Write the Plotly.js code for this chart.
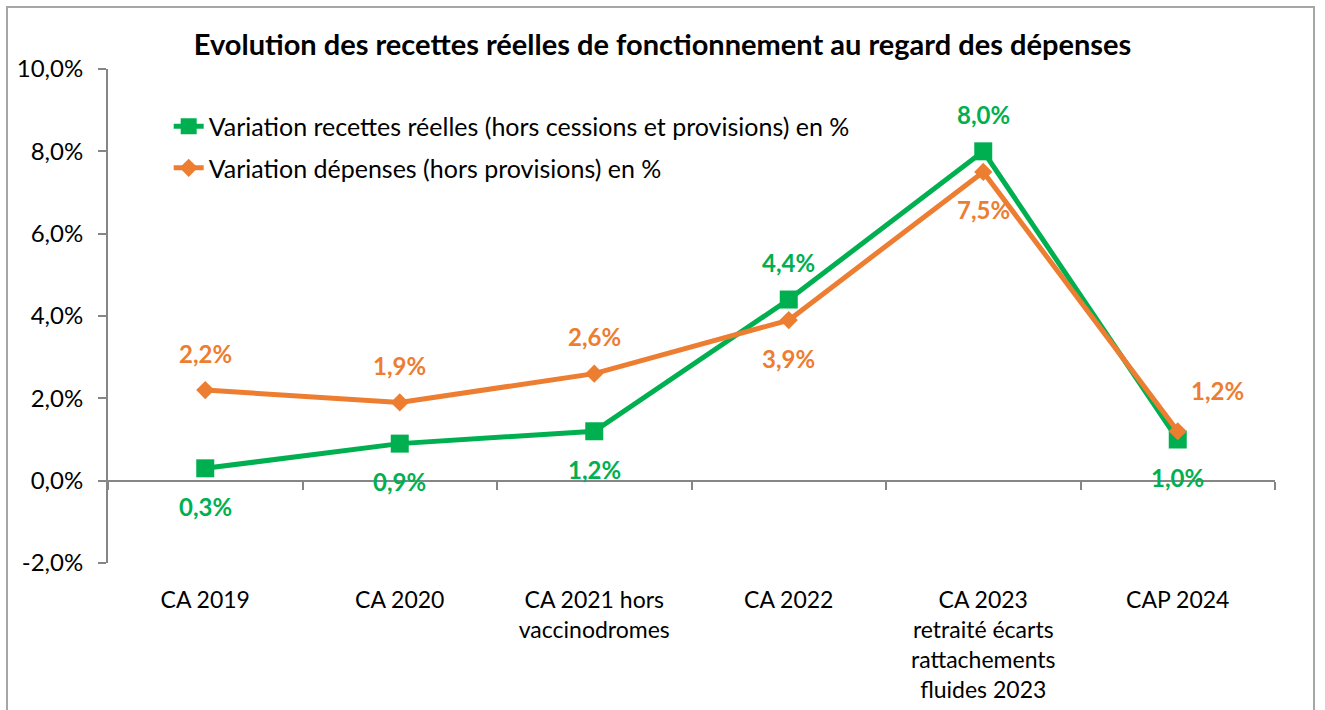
<!DOCTYPE html>
<html>
<head>
<meta charset="utf-8">
<script src="https://cdn.plot.ly/plotly-3.0.1.min.js"></script>
<style>
html,body{margin:0;padding:0;background:#fff;overflow:hidden;}
#frame{position:absolute;left:6px;top:6px;width:1309px;height:760px;border:2px solid #a6a6a6;box-sizing:border-box;}
#chart{position:absolute;left:0;top:0;width:1325px;height:710px;}
</style>
</head>
<body>
<div id="frame"></div>
<div id="chart"></div>
<script>
const categories = [
  "CA 2019",
  "CA 2020",
  "CA 2021 hors<br>vaccinodromes",
  "CA 2022",
  "CA 2023<br>retraité écarts<br>rattachements<br>fluides 2023",
  "CAP 2024"
];
const recettes = [0.3, 0.9, 1.2, 4.4, 8.0, 1.0];
const depenses = [2.2, 1.9, 2.6, 3.9, 7.5, 1.2];
const nameRecettes = "Variation recettes réelles (hors cessions et provisions) en %";
const nameDepenses = "Variation dépenses (hors provisions) en %";
const yTicks = [-2, 0, 2, 4, 6, 8, 10];

// label placement styles (not data)
const recPos = ["below","below","below","above","above","below"];
const depPos = ["above","above","above","below","below","aboveright"];

const green = "#00B050", orange = "#ED7D31", axisGray = "#868686";
const font = "Lato, 'Open Sans', sans-serif";
const yRange = [-2, 10];
const fmt = v => v.toFixed(1).replace(".", ",") + "%";

const traces = [
  {x: categories, y: recettes, name: nameRecettes, legendgroup: "a", type: "scatter", mode: "lines+markers",
   line: {color: green, width: 5}, marker: {symbol: "square", size: 18, color: green}},
  {x: categories, y: depenses, name: nameDepenses, legendgroup: "b", type: "scatter", mode: "lines+markers",
   line: {color: orange, width: 5}, marker: {symbol: "diamond", size: 14, color: orange}},
  {x: categories, y: recettes, xaxis: "x2", type: "scatter", mode: "markers",
   marker: {opacity: 0}, showlegend: false, hoverinfo: "skip"}
];

function mkAnn(vals, pos, color) {
  return vals.map((v, i) => {
    let ys = 0, xs = 0;
    if (pos[i] === "above") ys = 37;
    else if (pos[i] === "below") ys = -38;
    else if (pos[i] === "aboveright") { ys = 41; xs = 40; }
    return {x: categories[i], y: v, xref: "x", yref: "y", text: fmt(v), showarrow: false,
      xshift: xs, yshift: ys, font: {family: font, size: 24, color: color, weight: "bold"}};
  });
}

const layout = {
  width: 1325, height: 710,
  paper_bgcolor: "rgba(0,0,0,0)", plot_bgcolor: "rgba(0,0,0,0)",
  margin: {l: 108, r: 50, t: 69, b: 147},
  title: {text: "<b>Evolution des recettes réelles de fonctionnement au regard des dépenses</b>",
    font: {family: font, size: 29, color: "#000"}, x: 0.5, xanchor: "center", y: 0.937, yanchor: "middle"},
  showlegend: true,
  legend: {x: 0.052, y: 0.93, xanchor: "left", yanchor: "top", bgcolor: "rgba(0,0,0,0)",
    traceorder: "grouped", tracegroupgap: 6,
    font: {family: font, size: 25, color: "#000"}},
  xaxis: {type: "category", range: [-0.5, 5.5], anchor: "free", position: (0 - yRange[0]) / (yRange[1] - yRange[0]),
    showline: true, linecolor: axisGray, linewidth: 2, ticks: "outside", tickson: "boundaries",
    ticklen: 8, tickwidth: 2, tickcolor: axisGray, showticklabels: false, showgrid: false, zeroline: false, fixedrange: true},
  xaxis2: {type: "category", overlaying: "x", matches: "x", anchor: "y", side: "bottom", showline: false,
    ticks: "", showgrid: false, zeroline: false, tickfont: {family: font, size: 23, color: "#000"}, ticklabelstandoff: 21},
  yaxis: {range: yRange, tickvals: yTicks, ticktext: yTicks.map(fmt), showline: true, linecolor: axisGray,
    linewidth: 2, ticks: "outside", ticklen: 8, tickwidth: 2, tickcolor: axisGray, showgrid: false,
    zeroline: false, ticklabelstandoff: 10, tickfont: {family: font, size: 24, color: "#000"}},
  annotations: [...mkAnn(recettes, recPos, green), ...mkAnn(depenses, depPos, orange)]
};

Plotly.newPlot("chart", traces, layout, {displayModeBar: false, staticPlot: true});
</script>
</body>
</html>
